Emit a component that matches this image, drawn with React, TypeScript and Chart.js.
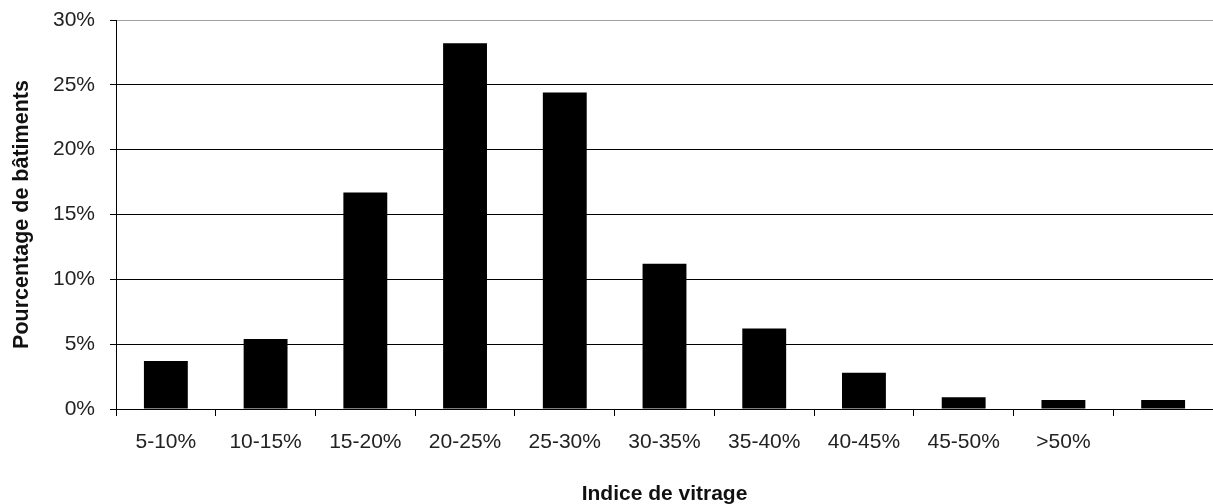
import React, { useEffect, useRef } from "react";
import { Chart, registerables } from "chart.js";

Chart.register(...registerables);

const categories = ["5-10%", "10-15%", "15-20%", "20-25%", "25-30%", "30-35%", "35-40%", "40-45%", "45-50%", ">50%", ""];
const percentages = [3.7, 5.4, 16.7, 28.2, 24.4, 11.2, 6.2, 2.8, 0.9, 0.7, 0.7];
const yTicks = [0, 5, 10, 15, 20, 25, 30];
const xTitle = "Indice de vitrage";
const yTitle = "Pourcentage de bâtiments";

const FONT = "'Liberation Sans', Arial, sans-serif";

export default function App() {
  const ref = useRef<HTMLCanvasElement | null>(null);

  useEffect(() => {
    if (!ref.current) return;
    const chart = new Chart(ref.current, {
      type: "bar",
      data: {
        labels: categories,
        datasets: [
          {
            data: percentages,
            backgroundColor: "#000000",
            borderWidth: 0,
            barPercentage: 0.44,
            categoryPercentage: 1,
          },
        ],
      },
      options: {
        animation: false,
        responsive: false,
        maintainAspectRatio: false,
        layout: { padding: { top: 20, right: 0, left: 0, bottom: 0 } },
        plugins: { legend: { display: false }, tooltip: { enabled: false } },
        scales: {
          x: {
            offset: true,
            grid: {
              display: true,
              offset: true,
              drawOnChartArea: false,
              drawTicks: true,
              tickLength: 7,
              color: "#000000",
              lineWidth: 1,
            },
            border: { display: true, color: "#000000", width: 1 },
            ticks: {
              color: "#222222",
              font: { family: FONT, size: 21 },
              padding: 14,
              maxRotation: 0,
              autoSkip: false,
            },
            title: {
              display: true,
              text: xTitle,
              color: "#111111",
              font: { family: FONT, size: 21, weight: "bold" },
              padding: { top: 0, bottom: -3 },
            },
            afterFit: (scale: any) => {
              scale.height = 95;
              scale.paddingLeft = 0;
              scale.paddingRight = 0;
            },
          },
          y: {
            min: yTicks[0],
            max: yTicks[yTicks.length - 1],
            afterBuildTicks: (scale: any) => {
              scale.ticks = yTicks.map((v) => ({ value: v }));
            },
            grid: {
              color: (ctx: any) => (ctx.tick && ctx.tick.value === 30 ? "#a0a0a0" : "#000000"),
              lineWidth: 1,
              drawTicks: true,
              tickLength: 6,
              tickColor: "#000000",
            },
            border: { display: true, color: "#000000", width: 1 },
            ticks: {
              color: "#222222",
              font: { family: FONT, size: 21 },
              padding: 15,
              callback: (v: any) => v + "%",
            },
            title: {
              display: true,
              text: yTitle,
              color: "#111111",
              font: { family: FONT, size: 21.5, weight: "bold" },
              padding: { top: 9, bottom: 0 },
            },
            afterFit: (scale: any) => {
              scale.width = 116;
              scale.paddingTop = 0;
              scale.paddingBottom = 0;
            },
          },
        },
      },
    });
    return () => chart.destroy();
  }, []);

  return (
    <div style={{ position: "absolute", left: 0, top: 0, width: 1213, height: 504, background: "#ffffff" }}>
      <canvas ref={ref} width={1213} height={504} style={{ display: "block", width: 1213, height: 504 }} />
    </div>
  );
}
